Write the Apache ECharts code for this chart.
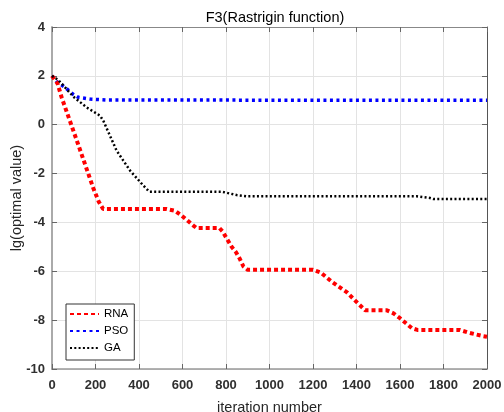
<!DOCTYPE html>
<html><head><meta charset="utf-8">
<script src="https://cdn.jsdelivr.net/npm/echarts@6/dist/echarts.min.js"></script>
<style>html,body{margin:0;padding:0;background:#fff}#c{width:504px;height:412px}</style>
</head><body><div id="c"></div>
<script>
var xTicks = [0,200,400,600,800,1000,1200,1400,1600,1800,2000];
var yTicks = [-10,-8,-6,-4,-2,0,2,4];
var rnaX = [0,25,45,120,190,215,235,527,565,596,624,650,665,770,785,805,826,846,864,880,900,1200,1235,1290,1355,1405,1440,1540,1570,1600,1655,1680,1875,1910,1980,2000];
var rnaY = [2,1.7,1.1,-0.8,-2.6,-3.15,-3.45,-3.45,-3.52,-3.72,-3.93,-4.13,-4.23,-4.23,-4.38,-4.68,-5.0,-5.22,-5.5,-5.8,-5.94,-5.94,-6.05,-6.45,-6.85,-7.3,-7.6,-7.6,-7.72,-7.92,-8.33,-8.4,-8.4,-8.5,-8.65,-8.68];
var psoX = [0,21,60,95,121,175,251,2000];
var psoY = [2,1.77,1.53,1.26,1.12,1.05,1.01,1.0];
var gaX = [0,29,60,98,159,221,236,297,359,420,447,780,849,895,1677,1738,1753,2000];
var gaY = [2,1.83,1.53,1.15,0.71,0.37,0.16,-1.06,-1.88,-2.49,-2.74,-2.74,-2.88,-2.93,-2.93,-3.0,-3.04,-3.04];
var names = ['RNA','PSO','GA'];
function pairs(xs, ys){ return xs.map(function(x,i){return [x, ys[i]];}); }
var F = 'Liberation Sans, Arial, sans-serif';
var axisCol = '#666';
var lblStyle = {fontFamily:F, fontSize:13, fontWeight:'bold', color:'#303030'};
var chart = echarts.init(document.getElementById('c'));
chart.setOption({
  animation:false,
  title:{text:'F3(Rastrigin function)', left:270, textAlign:'center', top:5,
    textStyle:{fontFamily:F, fontSize:14.5, fontWeight:'normal', color:'#000'}},
  grid:{left:52, right:17, top:27, bottom:43, containLabel:false, outerBoundsMode:'none'},
  legend:{orient:'vertical', left:66, top:304, itemWidth:29, itemHeight:8, itemGap:5,
    padding:[4,6,6,3], borderColor:'#333', borderWidth:1, backgroundColor:'#fff',
    itemStyle:{opacity:0},
    textStyle:{fontFamily:F, fontSize:11.5, color:'#000'}, data:names},
  xAxis:[{type:'value', min:0, max:2000, interval:200, name:'iteration number',
      nameLocation:'middle', nameGap:31, nameTextStyle:{fontFamily:F, fontSize:14.5, color:'#262626'},
      axisLine:{onZero:false, lineStyle:{color:'#999', width:1.5}}, axisTick:{inside:true, length:5, lineStyle:{color:axisCol}},
      axisLabel:Object.assign({margin:10, formatter:function(v){return xTicks.indexOf(v)>=0?String(v):'';}}, lblStyle),
      splitLine:{show:true, lineStyle:{color:'#e3e3e3'}}},
    {type:'value', position:'top', min:0, max:2000, interval:200,
      axisLine:{show:true, onZero:false, lineStyle:{color:'#888'}}, axisTick:{show:true, inside:true, length:5, lineStyle:{color:axisCol}},
      axisLabel:{show:false}, splitLine:{show:false}}],
  yAxis:[{type:'value', min:-10, max:4, interval:2, name:'lg(optimal value)',
      nameLocation:'middle', nameGap:28, nameMoveOverlap:false, nameTextStyle:{fontFamily:F, fontSize:14.5, color:'#262626'},
      axisLine:{show:true, onZero:false, lineStyle:{color:'#aaa', width:2}}, axisTick:{show:true, inside:true, length:5, lineStyle:{color:axisCol}},
      axisLabel:Object.assign({margin:7, formatter:function(v){return yTicks.indexOf(v)>=0?String(v):'';}}, lblStyle),
      splitLine:{show:true, lineStyle:{color:'#e3e3e3'}}},
    {type:'value', position:'right', min:-10, max:4, interval:2,
      axisLine:{show:true, onZero:false, lineStyle:{color:'#555'}}, axisTick:{show:true, inside:true, length:5, lineStyle:{color:axisCol}},
      axisLabel:{show:false}, splitLine:{show:false}}],
  series:[
    {name:names[0], type:'line', showSymbol:false, symbol:'none', data:pairs(rnaX, rnaY), z:4,
      lineStyle:{color:'#ff0000', width:4, type:[4,3]}, itemStyle:{color:'#ff0000'}},
    {name:names[1], type:'line', showSymbol:false, symbol:'none', data:pairs(psoX, psoY), z:3,
      lineStyle:{color:'#0000ff', width:3.5, type:[3,3.5]}, itemStyle:{color:'#0000ff'}},
    {name:names[2], type:'line', showSymbol:false, symbol:'none', data:pairs(gaX, gaY), z:5,
      lineStyle:{color:'#000000', width:2.5, type:[2,2.3]}, itemStyle:{color:'#000'}}
  ]
});
</script></body></html>
